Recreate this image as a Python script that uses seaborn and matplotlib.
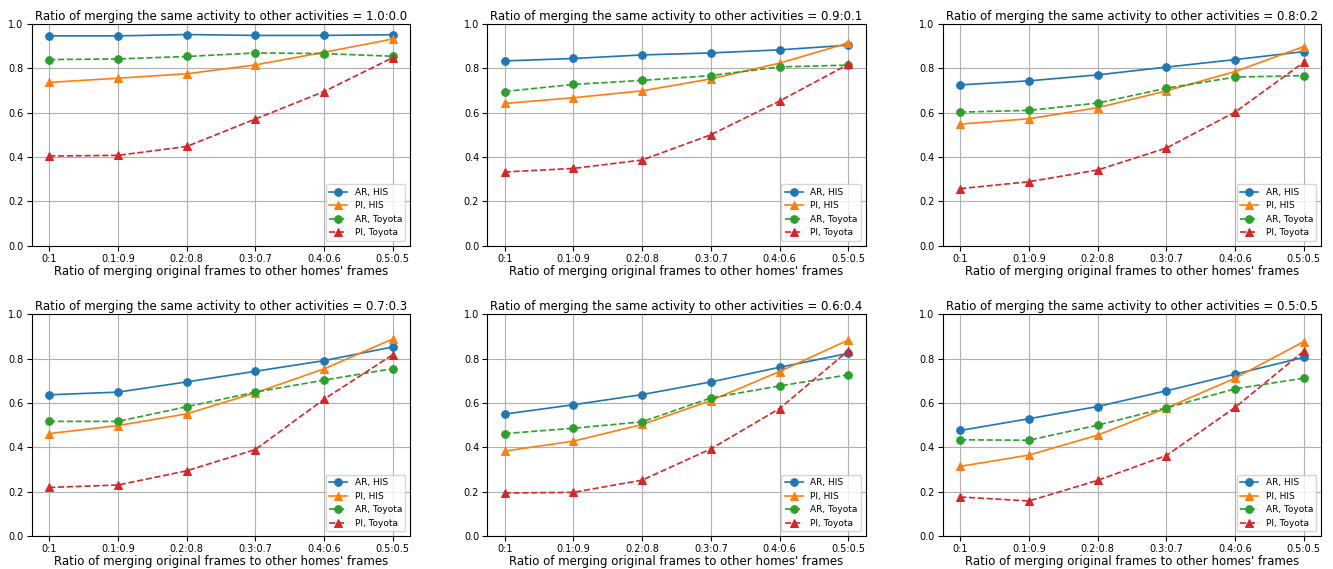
import numpy as np
import pandas as pd
import matplotlib
matplotlib.use("Agg")
import matplotlib.pyplot as plt
import seaborn as sns

frame_ratios = ["0:1", "0.1:0.9", "0.2:0.8", "0.3:0.7", "0.4:0.6", "0.5:0.5"]
activity_ratios = ["1.0:0.0", "0.9:0.1", "0.8:0.2", "0.7:0.3", "0.6:0.4", "0.5:0.5"]

ar_his = [
    [0.946, 0.946, 0.952, 0.948, 0.948, 0.951],
    [0.833, 0.844, 0.860, 0.869, 0.883, 0.904],
    [0.725, 0.743, 0.770, 0.805, 0.839, 0.875],
    [0.637, 0.649, 0.695, 0.743, 0.791, 0.853],
    [0.550, 0.592, 0.638, 0.695, 0.761, 0.824],
    [0.476, 0.529, 0.584, 0.655, 0.730, 0.806],
]
pi_his = [
    [0.736, 0.755, 0.775, 0.815, 0.872, 0.932],
    [0.641, 0.667, 0.698, 0.752, 0.823, 0.914],
    [0.548, 0.572, 0.622, 0.698, 0.785, 0.898],
    [0.462, 0.498, 0.551, 0.646, 0.754, 0.889],
    [0.383, 0.428, 0.503, 0.611, 0.742, 0.884],
    [0.314, 0.365, 0.455, 0.577, 0.712, 0.877],
]
ar_toyota = [
    [0.839, 0.842, 0.853, 0.869, 0.866, 0.854],
    [0.695, 0.727, 0.745, 0.767, 0.806, 0.814],
    [0.602, 0.610, 0.643, 0.710, 0.760, 0.767],
    [0.517, 0.517, 0.583, 0.649, 0.703, 0.755],
    [0.462, 0.486, 0.515, 0.623, 0.677, 0.727],
    [0.434, 0.432, 0.500, 0.578, 0.664, 0.712],
]
pi_toyota = [
    [0.404, 0.407, 0.447, 0.571, 0.695, 0.848],
    [0.332, 0.348, 0.386, 0.500, 0.652, 0.818],
    [0.257, 0.288, 0.341, 0.440, 0.602, 0.827],
    [0.219, 0.230, 0.294, 0.390, 0.617, 0.818],
    [0.194, 0.197, 0.252, 0.393, 0.575, 0.836],
    [0.176, 0.158, 0.251, 0.363, 0.580, 0.834],
]

series = [
    ("AR, HIS", ar_his, "tab:blue", "o", "-"),
    ("PI, HIS", pi_his, "tab:orange", "^", "-"),
    ("AR, Toyota", ar_toyota, "tab:green", "o", "--"),
    ("PI, Toyota", pi_toyota, "tab:red", "^", "--"),
]

fig, axes = plt.subplots(2, 3, figsize=(13.33, 5.69), dpi=100)
plt.subplots_adjust(left=0.024, right=0.991, top=0.958, bottom=0.058,
                    wspace=0.205, hspace=0.31)

x = np.arange(len(frame_ratios))
for i, ax in enumerate(axes.flat):
    for name, vals, color, marker, ls in series:
        sns.lineplot(x=x, y=vals[i], ax=ax, color=color, marker=marker,
                     linestyle=ls, label=name, markersize=5.5,
                     markeredgecolor=color, linewidth=1.2)
    ax.set_ylim(0, 1.0)
    ax.set_xticks(x)
    ax.set_xticklabels(frame_ratios)
    ax.tick_params(axis="both", labelsize=7, pad=2.5)
    ax.grid(True, color="#b0b0b0", linewidth=0.8)
    ax.set_title("Ratio of merging the same activity to other activities = " + activity_ratios[i],
                 fontsize=8.5, pad=3)
    ax.set_xlabel("Ratio of merging original frames to other homes' frames", fontsize=8.5, labelpad=0.5)
    ax.set_ylabel("")
    ax.legend(loc="lower right", fontsize=6.5)

fig.savefig("out.png")
